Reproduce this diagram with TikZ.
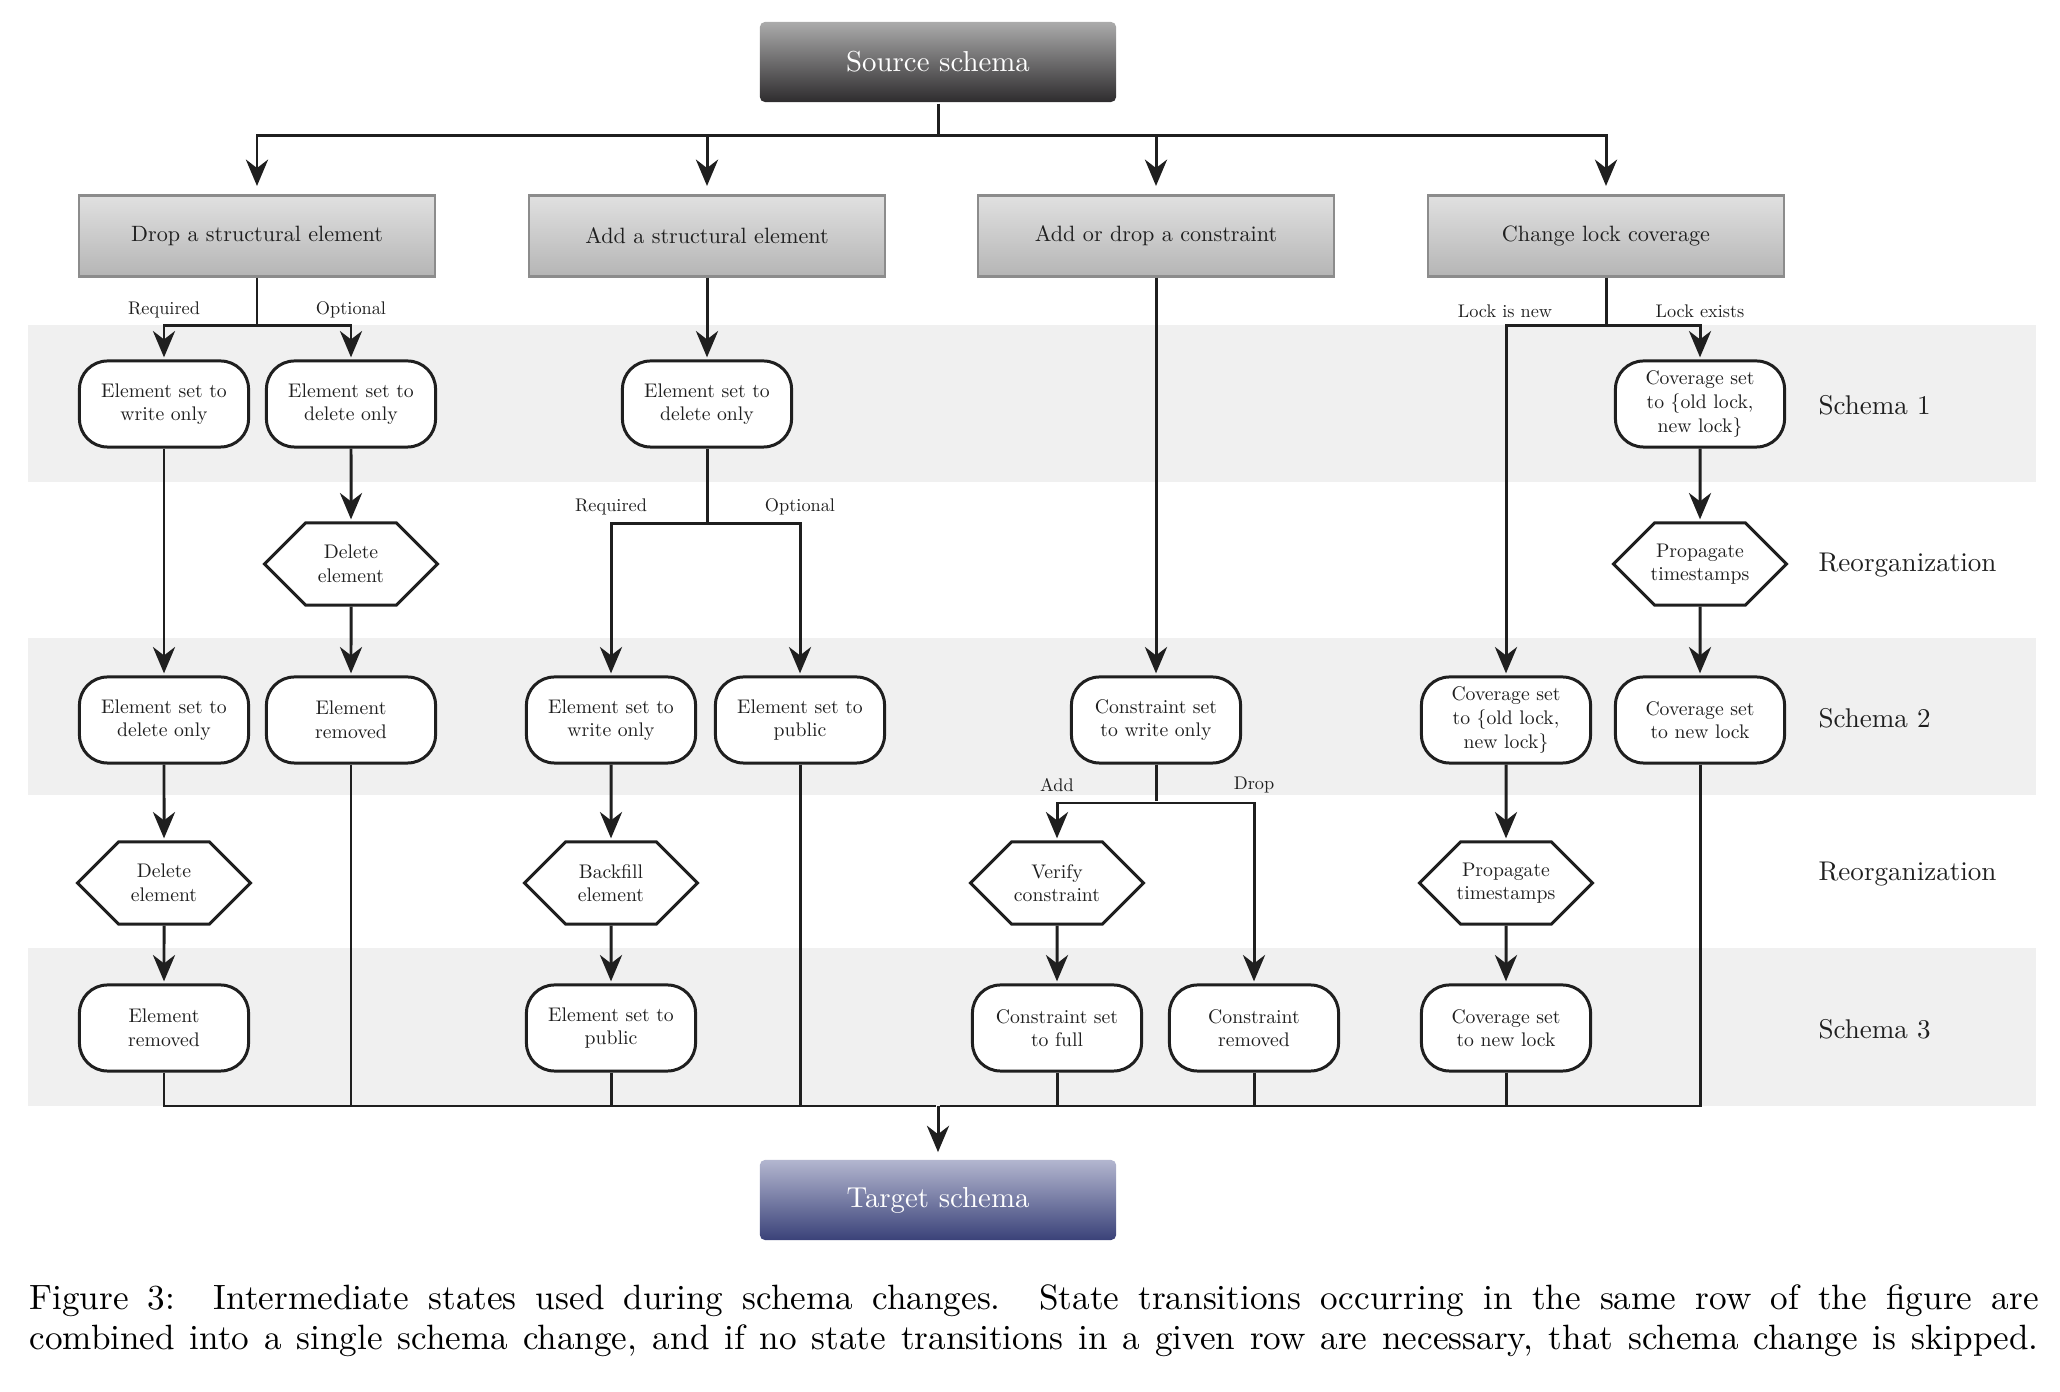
\documentclass[tikz,border=0pt]{standalone}
\usepackage{fontspec}
\usetikzlibrary{arrows.meta,shapes.symbols}

\newfontfamily\diagfont{lmroman10-regular}[Extension=.otf]

\definecolor{srctop}{HTML}{ABABAB}
\definecolor{srcbot}{HTML}{2E2C2E}
\definecolor{tgttop}{HTML}{B3B6CF}
\definecolor{tgtbot}{HTML}{3A4279}

\tikzset{
  state node/.style={draw,fill=white,rounded corners=0.28cm,minimum width=1.69cm,minimum height=0.86cm,align=center,inner sep=1pt,font=\diagfont\fontsize{5.6}{6.7}\selectfont},
  reorg node/.style={signal,signal to=east and west,signal pointer angle=90,draw,fill=white,minimum width=1.73cm,minimum height=0.82cm,align=center,inner ysep=1pt,inner xsep=-3pt,font=\diagfont\fontsize{5.6}{6.7}\selectfont},
  head node/.style={draw=black!45,line width=0.6pt,top color=black!12,bottom color=black!29,minimum width=3.56cm,minimum height=0.81cm,font=\diagfont\fontsize{6.3}{7.5}\selectfont},
  end node/.style={rounded corners=0.05cm,minimum width=3.56cm,minimum height=0.8cm,text=white,font=\diagfont\fontsize{8.2}{9.6}\selectfont},
  branch label/.style={inner sep=0pt,font=\diagfont\fontsize{5.2}{6}\selectfont},
  row label/.style={anchor=west,inner sep=0pt,font=\diagfont\fontsize{7.7}{9}\selectfont},
  band/.style={fill=black!6}
}

\begin{document}
\begin{tikzpicture}[x=0.01cm,y=-0.01cm,>={Stealth[length=7.5pt,width=6.3pt,inset=2.4pt]},shorten >=0.6pt,line width=0.85pt,color=black!88]

            \useasboundingbox (0,0) rectangle (2060,1392);

            % schema rows
            \fill[band] (28,325) rectangle (2036,482);
            \fill[band] (28,638) rectangle (2036,795);
            \fill[band] (28,948) rectangle (2036,1106);

            \node[end node,top color=srctop,bottom color=srcbot] (1) at (938,62) {Source schema};
            \node[head node] (2) at (257,236) {Drop a structural element};
            \node[head node] (3) at (707,236) {Add a structural element};
            \node[head node] (4) at (1156,236) {Add or drop a constraint};
            \node[head node] (5) at (1606,236) {Change lock coverage};

            % drop a structural element
            \node[state node] (6) at (164,404) {Element set to\\write only};
            \node[state node] (7) at (351,404) {Element set to\\delete only};
            \node[reorg node] (8) at (351,564) {Delete\\element};
            \node[state node] (9) at (164,720) {Element set to\\delete only};
            \node[state node] (10) at (351,720) {Element\\removed};
            \node[reorg node] (11) at (164,883) {Delete\\element};
            \node[state node] (12) at (164,1028) {Element\\removed};

            % add a structural element
            \node[state node] (13) at (707,404) {Element set to\\delete only};
            \node[state node] (14) at (611,720) {Element set to\\write only};
            \node[state node] (15) at (800,720) {Element set to\\public};
            \node[reorg node] (16) at (611,883) {Backfill\\element};
            \node[state node] (17) at (611,1028) {Element set to\\public};

            % add or drop a constraint
            \node[state node] (18) at (1156,720) {Constraint set\\to write only};
            \node[reorg node] (19) at (1057,883) {Verify\\constraint};
            \node[state node] (20) at (1057,1028) {Constraint set\\to full};
            \node[state node] (21) at (1254,1028) {Constraint\\removed};

            % change lock coverage
            \node[state node] (22) at (1700,404) {Coverage set\\to \{old lock,\\new lock\}};
            \node[reorg node] (23) at (1700,564) {Propagate\\timestamps};
            \node[state node] (24) at (1700,720) {Coverage set\\to new lock};
            \node[state node] (25) at (1506,720) {Coverage set\\to \{old lock,\\new lock\}};
            \node[reorg node] (26) at (1506,883) {Propagate\\timestamps};
            \node[state node] (27) at (1506,1028) {Coverage set\\to new lock};

            \node[end node,top color=tgttop,bottom color=tgtbot] (28) at (938,1200) {Target schema};

            \node[row label] (29) at (1817,405) {Schema 1};
            \node[row label] (30) at (1817,565) {Reorganization};
            \node[row label] (31) at (1817,718) {Schema 2};
            \node[row label] (32) at (1817,874) {Reorganization};
            \node[row label] (33) at (1817,1029) {Schema 3};

            \node[branch label] (l1) at (164,310) {Required};
            \node[branch label] (l2) at (351,310) {Optional};
            \node[branch label] (l3) at (611,507) {Required};
            \node[branch label] (l4) at (800,507) {Optional};
            \node[branch label] (l5) at (1057,785) {Add};
            \node[branch label] (l6) at (1254,785) {Drop};
            \node[branch label] (l7) at (1505,311) {Lock is new};
            \node[branch label] (l8) at (1700,311) {Lock exists};

            \coordinate (t) at (938,136);
            \coordinate (c1) at (257,326);
            \coordinate (c2) at (707,524);
            \coordinate (c3) at (1156,803);
            \coordinate (c4) at (1606,326);
            \coordinate (b) at (938,1106);

            \draw (1) to (t);
            \draw[->,shorten >=2.4pt] (t) -| (2);
            \draw[->,shorten >=2.4pt] (t) -| (3);
            \draw[->,shorten >=2.4pt] (t) -| (4);
            \draw[->,shorten >=2.4pt] (t) -| (5);

            \draw (2) to (c1);
            \draw[->] (c1) -| (6);
            \draw[->] (c1) -| (7);
            \draw[->] (6) to (9);
            \draw[->] (7) to (8);
            \draw[->] (8) to (10);
            \draw[->] (9) to (11);
            \draw[->] (11) to (12);

            \draw[->] (3) to (13);
            \draw (13) to (c2);
            \draw[->] (c2) -| (14);
            \draw[->] (c2) -| (15);
            \draw[->] (14) to (16);
            \draw[->] (16) to (17);

            \draw[->] (4) to (18);
            \draw (18) to (c3);
            \draw[->] (c3) -| (19);
            \draw[->] (c3) -| (21);
            \draw[->] (19) to (20);

            \draw (5) to (c4);
            \draw[->] (c4) -| (22);
            \draw[->] (c4) -| (25);
            \draw[->] (22) to (23);
            \draw[->] (23) to (24);
            \draw[->] (25) to (26);
            \draw[->] (26) to (27);

            \draw (12) |- (b);
            \draw (10) |- (b);
            \draw (17) |- (b);
            \draw (15) |- (b);
            \draw (20) |- (b);
            \draw (21) |- (b);
            \draw (27) |- (b);
            \draw (24) |- (b);
            \draw[->,shorten >=1.8pt] (b) to (28);

            \node[anchor=base west,inner sep=0pt,text=black,font=\fontsize{10}{12}\selectfont] (34) at (28,1310) {\makebox[20.08cm][s]{Figure 3:\ \ Intermediate states used during schema changes.\ \ State transitions occurring in the same row of the figure are}};
            \node[anchor=base west,inner sep=0pt,text=black,font=\fontsize{10}{12}\selectfont] (35) at (28,1350) {\makebox[20.08cm][s]{combined into a single schema change, and if no state transitions in a given row are necessary, that schema change is skipped.}};
        \end{tikzpicture}
\end{document}
